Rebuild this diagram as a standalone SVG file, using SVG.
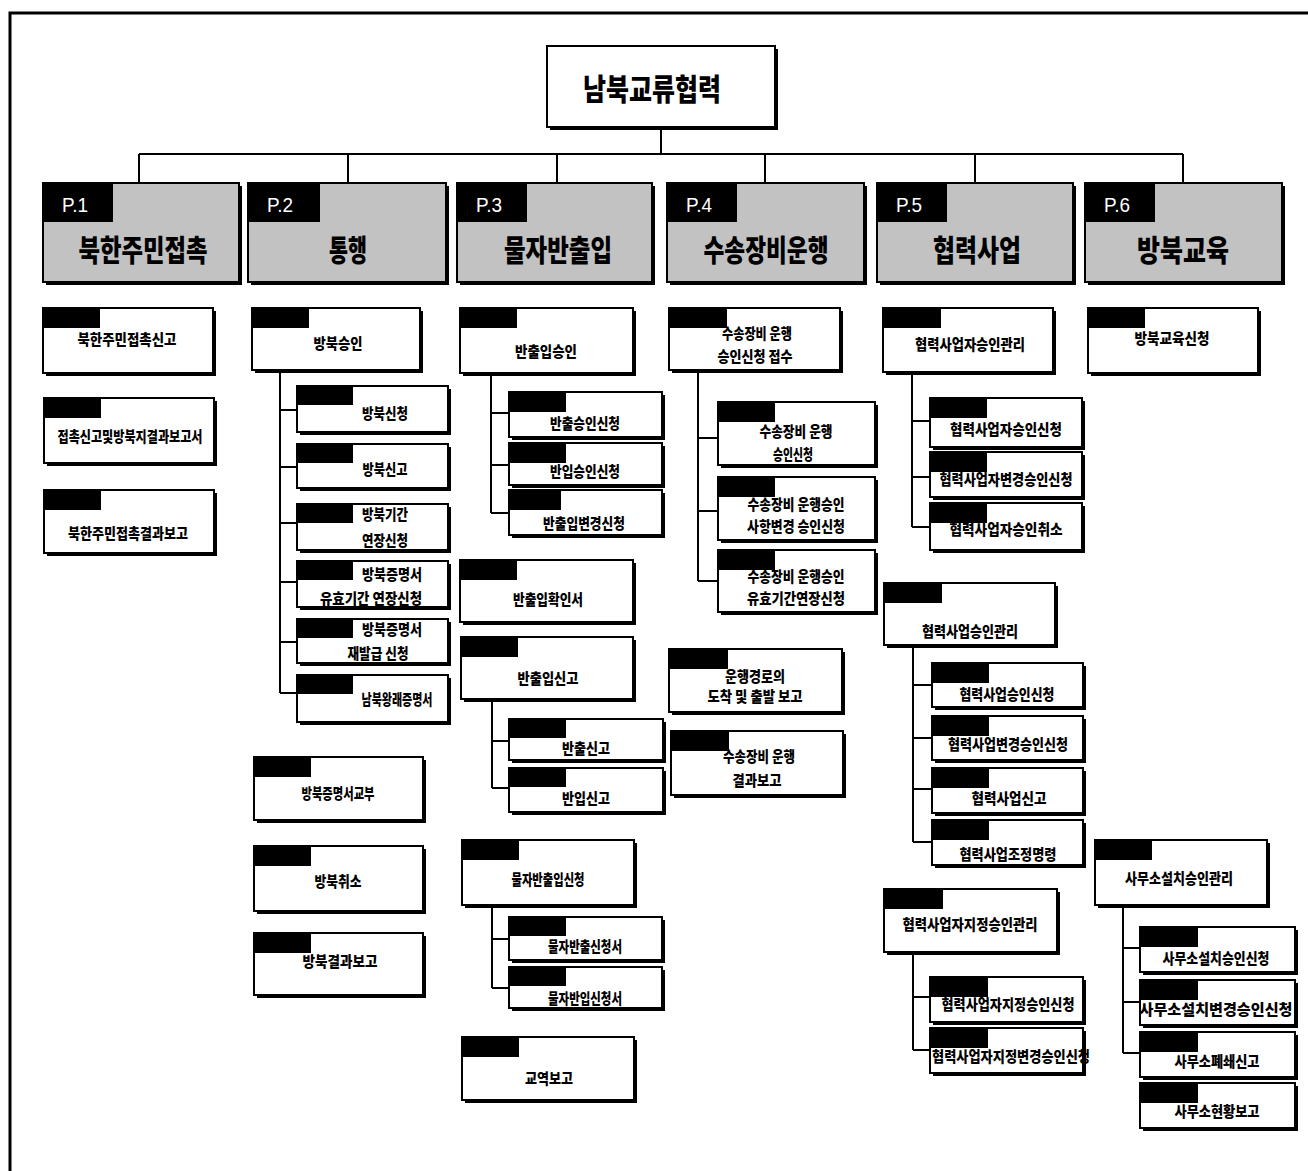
<svg xmlns="http://www.w3.org/2000/svg" width="1308" height="1171" viewBox="0 0 1308 1171">
<style>
.sh{fill:#000}
.box{fill:#fff;stroke:#000;stroke-width:2}
.pbox{fill:#c2c2c2;stroke:#000;stroke-width:2}
.tab{fill:#000}
.t{font-family:"Noto Sans CJK KR","Noto Sans",sans-serif;font-weight:900;font-size:15px;fill:#000;text-anchor:middle;dominant-baseline:central}
.pt{font-family:"Noto Sans CJK KR","Noto Sans",sans-serif;font-weight:900;font-size:30px;fill:#000;text-anchor:middle;dominant-baseline:central}
.pl{font-family:"Liberation Sans",sans-serif;font-size:21px;fill:#fff;text-anchor:middle;dominant-baseline:central}
.c{fill:none;stroke:#000;stroke-width:2}
</style>
<g id="frame"><path d="M10 1171V13H1308" fill="none" stroke="#000" stroke-width="3"/></g>
<g id="connectors" class="c">
<path d="M661 127V154M139 154H1183M139 154V183M348 154V183M557 154V183M765 154V183M975 154V183M1183 154V183"/>
<path d="M280 370V693M280 410H297M280 467H297M280 523H297M280 582H297M280 642H297M280 693H297"/>
<path d="M491 373V513M491 413H509M491 465H509M491 513H509"/>
<path d="M492 699V788M492 741H509M492 788H509"/>
<path d="M492 905V988M492 939H509M492 988H509"/>
<path d="M698 370V581M698 438H718M698 511H718M698 581H718"/>
<path d="M912 372V527M912 421H930M912 477H930M912 527H930"/>
<path d="M913 645V842M913 685H932M913 738H932M913 789H932M913 842H932"/>
<path d="M913 952V1050M913 997H930M913 1050H930"/>
<path d="M1123 905V1053M1123 948H1140M1123 1002H1140M1123 1053H1140"/>
</g>
<g id="root"><rect class="sh" x="550" y="49" width="228" height="81"/><rect class="box" x="547" y="46" width="228" height="81"/><text class="pt" x="652" y="87" font-size="28" textLength="138" lengthAdjust="spacingAndGlyphs">남북교류협력</text></g>
<g id="P1"><rect class="sh" x="46" y="186" width="196" height="99"/><rect class="pbox" x="43" y="183" width="196" height="99"/><rect class="tab" x="43" y="183" width="70" height="39"/><text class="pl" x="75" y="204" textLength="26" lengthAdjust="spacingAndGlyphs">P.1</text><text class="pt" x="143" y="248" textLength="129" lengthAdjust="spacingAndGlyphs">북한주민접촉</text></g>
<g id="P2"><rect class="sh" x="251" y="186" width="198" height="99"/><rect class="pbox" x="248" y="183" width="198" height="99"/><rect class="tab" x="248" y="183" width="72" height="39"/><text class="pl" x="280" y="204" textLength="26" lengthAdjust="spacingAndGlyphs">P.2</text><text class="pt" x="348" y="248" textLength="38" lengthAdjust="spacingAndGlyphs">통행</text></g>
<g id="P3"><rect class="sh" x="460" y="186" width="195" height="99"/><rect class="pbox" x="457" y="183" width="195" height="99"/><rect class="tab" x="457" y="183" width="70" height="39"/><text class="pl" x="489" y="204" textLength="26" lengthAdjust="spacingAndGlyphs">P.3</text><text class="pt" x="558" y="248" textLength="108" lengthAdjust="spacingAndGlyphs">물자반출입</text></g>
<g id="P4"><rect class="sh" x="670" y="186" width="197" height="99"/><rect class="pbox" x="667" y="183" width="197" height="99"/><rect class="tab" x="667" y="183" width="70" height="39"/><text class="pl" x="699" y="204" textLength="26" lengthAdjust="spacingAndGlyphs">P.4</text><text class="pt" x="766" y="248" textLength="125" lengthAdjust="spacingAndGlyphs">수송장비운행</text></g>
<g id="P5"><rect class="sh" x="880" y="186" width="196" height="99"/><rect class="pbox" x="877" y="183" width="196" height="99"/><rect class="tab" x="877" y="183" width="70" height="39"/><text class="pl" x="909" y="204" textLength="26" lengthAdjust="spacingAndGlyphs">P.5</text><text class="pt" x="977" y="248" textLength="88" lengthAdjust="spacingAndGlyphs">협력사업</text></g>
<g id="P6"><rect class="sh" x="1088" y="186" width="197" height="99"/><rect class="pbox" x="1085" y="183" width="197" height="99"/><rect class="tab" x="1085" y="183" width="70" height="39"/><text class="pl" x="1117" y="204" textLength="26" lengthAdjust="spacingAndGlyphs">P.6</text><text class="pt" x="1183" y="248" textLength="92" lengthAdjust="spacingAndGlyphs">방북교육</text></g>

<g id="p1-1"><rect class="sh" x="46" y="311" width="170" height="65"/><rect class="box" x="43" y="308" width="170" height="65"/><rect class="tab" x="43" y="308" width="57" height="20"/><text class="t" x="127" y="338" textLength="99" lengthAdjust="spacingAndGlyphs">북한주민접촉신고</text></g>
<g id="p1-2"><rect class="sh" x="47" y="401" width="170" height="65"/><rect class="box" x="44" y="398" width="170" height="65"/><rect class="tab" x="44" y="398" width="57" height="20"/><text class="t" x="130" y="435" textLength="145" lengthAdjust="spacingAndGlyphs">접촉신고및방북지결과보고서</text></g>
<g id="p1-3"><rect class="sh" x="47" y="493" width="170" height="63"/><rect class="box" x="44" y="490" width="170" height="63"/><rect class="tab" x="44" y="490" width="57" height="20"/><text class="t" x="128" y="532" textLength="120" lengthAdjust="spacingAndGlyphs">북한주민접촉결과보고</text></g>

<g id="p2-1"><rect class="sh" x="255" y="311" width="168" height="62"/><rect class="box" x="252" y="308" width="168" height="62"/><rect class="tab" x="252" y="308" width="57" height="20"/><text class="t" x="338" y="342" textLength="49" lengthAdjust="spacingAndGlyphs">방북승인</text></g>
<g id="p2-1-1"><rect class="sh" x="300" y="389" width="151" height="46"/><rect class="box" x="297" y="386" width="151" height="46"/><rect class="tab" x="297" y="386" width="56" height="19"/><text class="t" x="385" y="412" textLength="46" lengthAdjust="spacingAndGlyphs">방북신청</text></g>
<g id="p2-1-2"><rect class="sh" x="300" y="447" width="151" height="44"/><rect class="box" x="297" y="444" width="151" height="44"/><rect class="tab" x="297" y="444" width="56" height="19"/><text class="t" x="385" y="468" textLength="45" lengthAdjust="spacingAndGlyphs">방북신고</text></g>
<g id="p2-1-3"><rect class="sh" x="300" y="507" width="151" height="46"/><rect class="box" x="297" y="504" width="151" height="46"/><rect class="tab" x="297" y="504" width="56" height="19"/><text class="t" x="385" y="513" textLength="46" lengthAdjust="spacingAndGlyphs">방북기간</text><text class="t" x="385" y="539" textLength="46" lengthAdjust="spacingAndGlyphs">연장신청</text></g>
<g id="p2-1-4"><rect class="sh" x="300" y="564" width="151" height="46"/><rect class="box" x="297" y="561" width="151" height="46"/><rect class="tab" x="297" y="561" width="56" height="19"/><text class="t" x="392" y="573" textLength="60" lengthAdjust="spacingAndGlyphs">방북증명서</text><text class="t" x="371" y="597" textLength="102" lengthAdjust="spacingAndGlyphs">유효기간 연장신청</text></g>
<g id="p2-1-5"><rect class="sh" x="300" y="622" width="151" height="44"/><rect class="box" x="297" y="619" width="151" height="44"/><rect class="tab" x="297" y="619" width="56" height="19"/><text class="t" x="392" y="628" textLength="60" lengthAdjust="spacingAndGlyphs">방북증명서</text><text class="t" x="378" y="652" textLength="61" lengthAdjust="spacingAndGlyphs">재발급 신청</text></g>
<g id="p2-1-6"><rect class="sh" x="300" y="678" width="151" height="47"/><rect class="box" x="297" y="675" width="151" height="47"/><rect class="tab" x="297" y="675" width="56" height="19"/><text class="t" x="397" y="698" textLength="71" lengthAdjust="spacingAndGlyphs">남북왕래증명서</text></g>
<g id="p2-2"><rect class="sh" x="257" y="760" width="169" height="63"/><rect class="box" x="254" y="757" width="169" height="63"/><rect class="tab" x="254" y="757" width="57" height="20"/><text class="t" x="338" y="792" textLength="73" lengthAdjust="spacingAndGlyphs">방북증명서교부</text></g>
<g id="p2-3"><rect class="sh" x="257" y="849" width="169" height="65"/><rect class="box" x="254" y="846" width="169" height="65"/><rect class="tab" x="254" y="846" width="57" height="20"/><text class="t" x="338" y="880" textLength="47" lengthAdjust="spacingAndGlyphs">방북취소</text></g>
<g id="p2-4"><rect class="sh" x="257" y="936" width="169" height="62"/><rect class="box" x="254" y="933" width="169" height="62"/><rect class="tab" x="254" y="933" width="57" height="20"/><text class="t" x="340" y="960" textLength="75" lengthAdjust="spacingAndGlyphs">방북결과보고</text></g>

<g id="p3-1"><rect class="sh" x="463" y="311" width="173" height="65"/><rect class="box" x="460" y="308" width="173" height="65"/><rect class="tab" x="460" y="308" width="57" height="20"/><text class="t" x="546" y="350" textLength="62" lengthAdjust="spacingAndGlyphs">반출입승인</text></g>
<g id="p3-1-1"><rect class="sh" x="512" y="395" width="153" height="45"/><rect class="box" x="509" y="392" width="153" height="45"/><rect class="tab" x="509" y="392" width="57" height="20"/><text class="t" x="585" y="422" textLength="70" lengthAdjust="spacingAndGlyphs">반출승인신청</text></g>
<g id="p3-1-2"><rect class="sh" x="512" y="446" width="153" height="42"/><rect class="box" x="509" y="443" width="153" height="42"/><rect class="tab" x="509" y="443" width="57" height="20"/><text class="t" x="585" y="470" textLength="70" lengthAdjust="spacingAndGlyphs">반입승인신청</text></g>
<g id="p3-1-3"><rect class="sh" x="512" y="493" width="153" height="45"/><rect class="box" x="509" y="490" width="153" height="45"/><rect class="tab" x="509" y="490" width="52" height="20"/><text class="t" x="584" y="522" textLength="82" lengthAdjust="spacingAndGlyphs">반출입변경신청</text></g>
<g id="p3-2"><rect class="sh" x="463" y="563" width="173" height="62"/><rect class="box" x="460" y="560" width="173" height="62"/><rect class="tab" x="460" y="560" width="57" height="20"/><text class="t" x="548" y="598" textLength="70" lengthAdjust="spacingAndGlyphs">반출입확인서</text></g>
<g id="p3-3"><rect class="sh" x="464" y="640" width="172" height="62"/><rect class="box" x="461" y="637" width="172" height="62"/><rect class="tab" x="461" y="637" width="57" height="20"/><text class="t" x="548" y="677" textLength="61" lengthAdjust="spacingAndGlyphs">반출입신고</text></g>
<g id="p3-3-1"><rect class="sh" x="512" y="722" width="154" height="41"/><rect class="box" x="509" y="719" width="154" height="41"/><rect class="tab" x="509" y="719" width="57" height="19"/><text class="t" x="586" y="747" textLength="48" lengthAdjust="spacingAndGlyphs">반출신고</text></g>
<g id="p3-3-2"><rect class="sh" x="512" y="771" width="154" height="44"/><rect class="box" x="509" y="768" width="154" height="44"/><rect class="tab" x="509" y="768" width="57" height="19"/><text class="t" x="586" y="797" textLength="48" lengthAdjust="spacingAndGlyphs">반입신고</text></g>
<g id="p3-4"><rect class="sh" x="465" y="843" width="172" height="65"/><rect class="box" x="462" y="840" width="172" height="65"/><rect class="tab" x="462" y="840" width="57" height="20"/><text class="t" x="548" y="878" textLength="73" lengthAdjust="spacingAndGlyphs">물자반출입신청</text></g>
<g id="p3-4-1"><rect class="sh" x="512" y="920" width="153" height="43"/><rect class="box" x="509" y="917" width="153" height="43"/><rect class="tab" x="509" y="917" width="57" height="19"/><text class="t" x="585" y="945" textLength="74" lengthAdjust="spacingAndGlyphs">물자반출신청서</text></g>
<g id="p3-4-2"><rect class="sh" x="512" y="970" width="153" height="41"/><rect class="box" x="509" y="967" width="153" height="41"/><rect class="tab" x="509" y="967" width="57" height="19"/><text class="t" x="585" y="997" textLength="74" lengthAdjust="spacingAndGlyphs">물자반입신청서</text></g>
<g id="p3-5"><rect class="sh" x="465" y="1040" width="172" height="63"/><rect class="box" x="462" y="1037" width="172" height="63"/><rect class="tab" x="462" y="1037" width="57" height="20"/><text class="t" x="549" y="1077" textLength="48" lengthAdjust="spacingAndGlyphs">교역보고</text></g>

<g id="p4-1"><rect class="sh" x="672" y="311" width="171" height="62"/><rect class="box" x="669" y="308" width="171" height="62"/><rect class="tab" x="669" y="308" width="58" height="20"/><text class="t" x="757" y="332" textLength="70" lengthAdjust="spacingAndGlyphs">수송장비 운행</text><text class="t" x="755" y="355" textLength="75" lengthAdjust="spacingAndGlyphs">승인신청 접수</text></g>
<g id="p4-1-1"><rect class="sh" x="721" y="405" width="157" height="63"/><rect class="box" x="718" y="402" width="157" height="63"/><rect class="tab" x="718" y="402" width="57" height="20"/><text class="t" x="796" y="430" textLength="73" lengthAdjust="spacingAndGlyphs">수송장비 운행</text><text class="t" x="793" y="453" textLength="40" lengthAdjust="spacingAndGlyphs">승인신청</text></g>
<g id="p4-1-2"><rect class="sh" x="721" y="480" width="157" height="63"/><rect class="box" x="718" y="477" width="157" height="63"/><rect class="tab" x="718" y="477" width="57" height="20"/><text class="t" x="796" y="503" textLength="97" lengthAdjust="spacingAndGlyphs">수송장비 운행승인</text><text class="t" x="796" y="525" textLength="98" lengthAdjust="spacingAndGlyphs">사항변경 승인신청</text></g>
<g id="p4-1-3"><rect class="sh" x="721" y="553" width="157" height="62"/><rect class="box" x="718" y="550" width="157" height="62"/><rect class="tab" x="718" y="550" width="57" height="20"/><text class="t" x="796" y="575" textLength="97" lengthAdjust="spacingAndGlyphs">수송장비 운행승인</text><text class="t" x="796" y="597" textLength="98" lengthAdjust="spacingAndGlyphs">유효기간연장신청</text></g>
<g id="p4-2"><rect class="sh" x="672" y="652" width="173" height="63"/><rect class="box" x="669" y="649" width="173" height="63"/><rect class="tab" x="669" y="649" width="59" height="20"/><text class="t" x="755" y="675" textLength="60" lengthAdjust="spacingAndGlyphs">운행경로의</text><text class="t" x="755" y="695" textLength="95" lengthAdjust="spacingAndGlyphs">도착 및 출발 보고</text></g>
<g id="p4-3"><rect class="sh" x="674" y="734" width="172" height="64"/><rect class="box" x="671" y="731" width="172" height="64"/><rect class="tab" x="671" y="731" width="58" height="20"/><text class="t" x="759" y="755" textLength="72" lengthAdjust="spacingAndGlyphs">수송장비 운행</text><text class="t" x="757" y="779" textLength="49" lengthAdjust="spacingAndGlyphs">결과보고</text></g>

<g id="p5-1"><rect class="sh" x="886" y="311" width="170" height="64"/><rect class="box" x="883" y="308" width="170" height="64"/><rect class="tab" x="883" y="308" width="58" height="20"/><text class="t" x="970" y="343" textLength="110" lengthAdjust="spacingAndGlyphs">협력사업자승인관리</text></g>
<g id="p5-1-1"><rect class="sh" x="933" y="401" width="152" height="49"/><rect class="box" x="930" y="398" width="152" height="49"/><rect class="tab" x="930" y="398" width="57" height="20"/><text class="t" x="1006" y="428" textLength="112" lengthAdjust="spacingAndGlyphs">협력사업자승인신청</text></g>
<g id="p5-1-2"><rect class="sh" x="933" y="455" width="152" height="45"/><rect class="box" x="930" y="452" width="152" height="45"/><rect class="tab" x="930" y="452" width="57" height="20"/><text class="t" x="1006" y="478" textLength="133" lengthAdjust="spacingAndGlyphs">협력사업자변경승인신청</text></g>
<g id="p5-1-3"><rect class="sh" x="933" y="506" width="152" height="47"/><rect class="box" x="930" y="503" width="152" height="47"/><rect class="tab" x="930" y="503" width="57" height="20"/><text class="t" x="1006" y="528" textLength="113" lengthAdjust="spacingAndGlyphs">협력사업자승인취소</text></g>
<g id="p5-2"><rect class="sh" x="887" y="586" width="171" height="62"/><rect class="box" x="884" y="583" width="171" height="62"/><rect class="tab" x="884" y="583" width="58" height="20"/><text class="t" x="970" y="630" textLength="96" lengthAdjust="spacingAndGlyphs">협력사업승인관리</text></g>
<g id="p5-2-1"><rect class="sh" x="935" y="666" width="151" height="44"/><rect class="box" x="932" y="663" width="151" height="44"/><rect class="tab" x="932" y="663" width="57" height="20"/><text class="t" x="1007" y="693" textLength="95" lengthAdjust="spacingAndGlyphs">협력사업승인신청</text></g>
<g id="p5-2-2"><rect class="sh" x="935" y="719" width="151" height="44"/><rect class="box" x="932" y="716" width="151" height="44"/><rect class="tab" x="932" y="716" width="57" height="20"/><text class="t" x="1008" y="743" textLength="120" lengthAdjust="spacingAndGlyphs">협력사업변경승인신청</text></g>
<g id="p5-2-3"><rect class="sh" x="935" y="771" width="151" height="45"/><rect class="box" x="932" y="768" width="151" height="45"/><rect class="tab" x="932" y="768" width="57" height="20"/><text class="t" x="1009" y="797" textLength="75" lengthAdjust="spacingAndGlyphs">협력사업신고</text></g>
<g id="p5-2-4"><rect class="sh" x="935" y="823" width="151" height="45"/><rect class="box" x="932" y="820" width="151" height="45"/><rect class="tab" x="932" y="820" width="57" height="20"/><text class="t" x="1008" y="853" textLength="97" lengthAdjust="spacingAndGlyphs">협력사업조정명령</text></g>
<g id="p5-3"><rect class="sh" x="887" y="892" width="173" height="63"/><rect class="box" x="884" y="889" width="173" height="63"/><rect class="tab" x="884" y="889" width="59" height="20"/><text class="t" x="970" y="923" textLength="135" lengthAdjust="spacingAndGlyphs">협력사업자지정승인관리</text></g>
<g id="p5-3-1"><rect class="sh" x="933" y="980" width="153" height="45"/><rect class="box" x="930" y="977" width="153" height="45"/><rect class="tab" x="930" y="977" width="58" height="20"/><text class="t" x="1008" y="1003" textLength="133" lengthAdjust="spacingAndGlyphs">협력사업자지정승인신청</text></g>
<g id="p5-3-2"><rect class="sh" x="933" y="1031" width="153" height="45"/><rect class="box" x="930" y="1028" width="153" height="45"/><rect class="tab" x="930" y="1028" width="58" height="20"/><text class="t" x="1011" y="1055" textLength="158" lengthAdjust="spacingAndGlyphs">협력사업자지정변경승인신청</text></g>
<g id="p5-4"><rect class="sh" x="1098" y="843" width="172" height="65"/><rect class="box" x="1095" y="840" width="172" height="65"/><rect class="tab" x="1095" y="840" width="57" height="20"/><text class="t" x="1179" y="877" textLength="108" lengthAdjust="spacingAndGlyphs">사무소설치승인관리</text></g>
<g id="p5-4-1"><rect class="sh" x="1143" y="930" width="155" height="45"/><rect class="box" x="1140" y="927" width="155" height="45"/><rect class="tab" x="1140" y="927" width="58" height="20"/><text class="t" x="1216" y="957" textLength="107" lengthAdjust="spacingAndGlyphs">사무소설치승인신청</text></g>
<g id="p5-4-2"><rect class="sh" x="1143" y="983" width="155" height="45"/><rect class="box" x="1140" y="980" width="155" height="45"/><rect class="tab" x="1140" y="980" width="58" height="20"/><text class="t" x="1216" y="1008" textLength="153" lengthAdjust="spacingAndGlyphs">사무소설치변경승인신청</text></g>
<g id="p5-4-3"><rect class="sh" x="1143" y="1035" width="155" height="45"/><rect class="box" x="1140" y="1032" width="155" height="45"/><rect class="tab" x="1140" y="1032" width="58" height="20"/><text class="t" x="1217" y="1060" textLength="85" lengthAdjust="spacingAndGlyphs">사무소폐쇄신고</text></g>
<g id="p5-4-4"><rect class="sh" x="1143" y="1086" width="155" height="45"/><rect class="box" x="1140" y="1083" width="155" height="45"/><rect class="tab" x="1140" y="1083" width="58" height="20"/><text class="t" x="1217" y="1110" textLength="85" lengthAdjust="spacingAndGlyphs">사무소현황보고</text></g>

<g id="p6-1"><rect class="sh" x="1091" y="311" width="170" height="65"/><rect class="box" x="1088" y="308" width="170" height="65"/><rect class="tab" x="1088" y="308" width="57" height="20"/><text class="t" x="1172" y="337" textLength="75" lengthAdjust="spacingAndGlyphs">방북교육신청</text></g>
</svg>
